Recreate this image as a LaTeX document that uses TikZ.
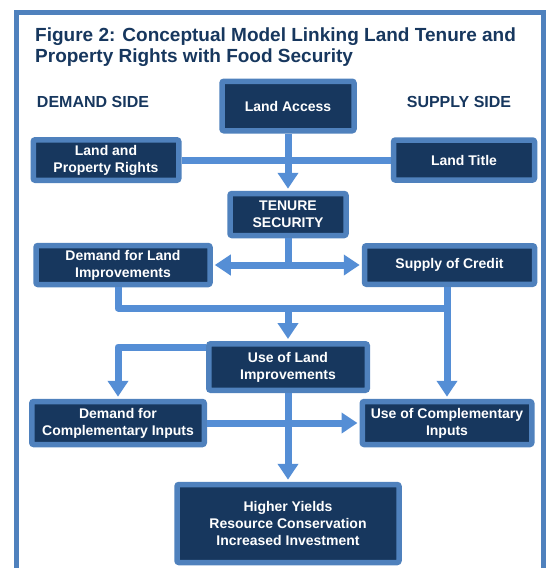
\documentclass[tikz,border=0pt]{standalone}
\usepackage{fontspec}
\setmainfont{Liberation Sans}
\usetikzlibrary{arrows.meta}

\definecolor{navy}{HTML}{17375E}
\definecolor{boxedge}{HTML}{4F81BD}
\definecolor{linkblue}{HTML}{558ED5}

\begin{document}
\begin{tikzpicture}[x=1pt, y=-1pt,
    box/.style={draw=boxedge, line width=5.5pt, fill=navy, rounded corners=2pt, text=white,
        font=\fontsize{14}{17}\selectfont\bfseries, align=center, inner sep=1pt},
    link/.style={linkblue, line width=7pt, line join=round, -{Triangle[width=20pt, length=16pt]}, shorten >=2pt},
    bar/.style={linkblue, line width=7pt, line join=round},
    side/.style={text=navy, font=\fontsize{16}{19}\selectfont\bfseries}]
    \useasboundingbox (0,0) rectangle (547,568);

    % Frame, open at the bottom
    \draw[boxedge, line width=5pt] (16,580) -- (16,12.5) -- (543,12.5) -- (543,580);

    \node[anchor=north west, inner sep=0pt, align=left, text=navy,
        font=\fontsize{19}{21}\selectfont\bfseries] (heading) at (35,28)
        {Figure 2: Conceptual Model Linking Land Tenure and\\Property Rights with Food Security};

    \node[side] (demandside) at (93,102) {DEMAND SIDE};
    \node[side] (supplyside) at (459,102) {SUPPLY SIDE};

    % Boxes
    \node[box, minimum width=132pt, minimum height=49.5pt] (access) at (288,106) {Land Access};
    \node[box, minimum width=145.5pt, minimum height=40.5pt] (rights) at (106,160) {Land and\\Property Rights};
    \node[box, minimum width=141pt, minimum height=40pt] (title) at (464,160) {Land Title};
    \node[box, minimum width=116pt, minimum height=42pt] (tenure) at (288,214.5) {TENURE\\SECURITY};
    \node[box, minimum width=174pt, minimum height=39pt] (demland) at (123,265) {Demand for Land\\Improvements};
    \node[box, minimum width=170pt, minimum height=38.5pt] (credit) at (449.5,265) {Supply of Credit};
    \node[box, minimum width=158.5pt, minimum height=46.5pt] (useland) at (288,367) {Use of Land\\Improvements};
    \node[box, minimum width=172.5pt, minimum height=43pt] (demcomp) at (118,423) {Demand for\\Complementary Inputs};
    \node[box, minimum width=169.5pt, minimum height=43pt] (usecomp) at (447,423) {Use of Complementary\\Inputs};
    \node[box, minimum width=222pt, minimum height=78pt] (yields) at (288,523.5) {Higher Yields\\Resource Conservation\\Increased Investment};

    % Connectors
    \draw[bar] (rights.east) -- (title.west);
    \draw[link] (access.south) -- (tenure.north);

    \coordinate (tsplit) at (tenure.south |- demland.east);
    \draw[bar] (tenure.south) -- (tsplit);
    \draw[link] (tsplit) -- (demland.east);
    \draw[link] (tsplit) -- (credit.west);

    \coordinate (merge) at (288,308);
    \draw[bar] (demland.south -| demcomp.north) |- (merge) -| (credit.south -| usecomp.north);
    \draw[link] (credit.south -| usecomp.north) -- (usecomp.north);
    \draw[link] (merge) -- (useland.north);

    \draw[link] ([yshift=-6pt]useland.north west) -| (demcomp.north);
    \draw[link] (demcomp.east) -- (usecomp.west);
    \draw[link] (useland.south) -- (yields.north);
\end{tikzpicture}
\end{document}
